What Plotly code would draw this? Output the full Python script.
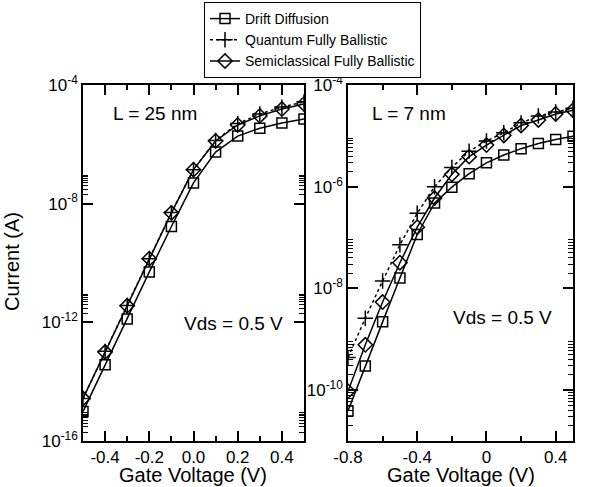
import plotly.graph_objects as go

# ---------------- data ----------------
vg_left = [-0.5, -0.4, -0.3, -0.2, -0.1, 0.0, 0.1, 0.2, 0.3, 0.4, 0.5]
dd_left = [9.8e-16, 3.7e-14, 1.3e-12, 5.0e-11, 1.7e-9, 5.0e-8, 5.5e-7, 1.9e-6, 3.5e-6, 5.2e-6, 7.2e-6]
qb_left = [2.7e-15, 1.05e-13, 3.7e-12, 1.4e-10, 5.0e-9, 1.4e-7, 1.35e-6, 5.0e-6, 1.05e-5, 1.8e-5, 2.7e-5]
sb_left = [2.7e-15, 1.0e-13, 3.6e-12, 1.4e-10, 4.9e-9, 1.4e-7, 1.3e-6, 4.5e-6, 9.1e-6, 1.55e-5, 2.3e-5]

vg_right = [-0.8, -0.7, -0.6, -0.5, -0.4, -0.3, -0.2, -0.1, 0.0, 0.1, 0.2, 0.3, 0.4, 0.5]
dd_right = [3.9e-11, 3.0e-10, 2.2e-9, 1.6e-8, 1.15e-7, 4.8e-7, 9.8e-7, 1.8e-6, 2.95e-6, 4.2e-6, 5.6e-6, 7.1e-6, 8.5e-6, 9.8e-6]
qb_right = [4.4e-10, 2.6e-9, 1.4e-8, 7.2e-8, 3.0e-7, 1.0e-6, 2.4e-6, 5.0e-6, 7.9e-6, 1.15e-5, 1.8e-5, 2.45e-5, 2.95e-5, 3.5e-5]
sb_right = [9.5e-11, 7.8e-10, 5.4e-9, 3.2e-8, 1.6e-7, 6.0e-7, 1.75e-6, 3.9e-6, 6.6e-6, 1.02e-5, 1.6e-5, 2.05e-5, 2.7e-5, 3.2e-5]

series_names = ["Drift Diffusion", "Quantum Fully Ballistic", "Semiclassical Fully Ballistic"]

x_left_ticks = [-0.4, -0.2, 0.0, 0.2, 0.4]
x_left_text = ["-0.4", "-0.2", "0.0", "0.2", "0.4"]
x_left_minor = [-0.3, -0.1, 0.1, 0.3]
x_right_ticks = [-0.8, -0.4, 0.0, 0.4]
x_right_text = ["-0.8", "-0.4", "0", "0.4"]
x_right_minor = [-0.6, -0.2, 0.2]

y_left_ticks = [1e-16, 1e-12, 1e-8, 1e-4]
y_left_text = ["10<sup>-16</sup>", "10<sup>-12</sup>", "10<sup>-8</sup>", "10<sup>-4</sup>"]
y_left_minor_decades = [1e-16, 1e-12, 1e-8]
y_right_ticks = [1e-10, 1e-8, 1e-6, 1e-4]
y_right_text = ["10<sup>-10</sup>", "10<sup>-8</sup>", "10<sup>-6</sup>", "10<sup>-4</sup>"]
y_right_minor_decades = [1e-11, 1e-10, 1e-8, 1e-6]
minor_mult = [2, 3, 4, 5, 6, 7, 8, 9]

FONT = "Liberation Sans, Arial, Helvetica, sans-serif"
W, H = 589, 487

fig = go.Figure()

styles = [
    dict(symbol="square-open", size=10, dash="solid"),
    dict(symbol="cross-thin-open", size=11, dash="dot"),
    dict(symbol="diamond-open", size=11, dash="solid"),
]

for i, (ys, st) in enumerate(zip([dd_left, qb_left, sb_left], styles)):
    fig.add_trace(go.Scatter(
        x=vg_left, y=ys, mode="lines+markers", name=series_names[i],
        line=dict(color="black", width=1.5, dash=st["dash"]),
        marker=dict(symbol=st["symbol"], size=st["size"], color="black",
                    line=dict(color="black", width=1.5)),
        xaxis="x", yaxis="y", showlegend=True))

for i, (ys, st) in enumerate(zip([dd_right, qb_right, sb_right], styles)):
    fig.add_trace(go.Scatter(
        x=vg_right, y=ys, mode="lines+markers", name=series_names[i],
        line=dict(color="black", width=1.5, dash=st["dash"]),
        marker=dict(symbol=st["symbol"], size=st["size"], color="black",
                    line=dict(color="black", width=1.5)),
        xaxis="x2", yaxis="y2", showlegend=False))

ytop, ybot = 85, 441
ydom = [1 - ybot / H, 1 - ytop / H]

def xaxis_cfg(dom, rng, tv, tt, mv):
    return dict(domain=dom, range=rng, tickmode="array", tickvals=tv, ticktext=tt,
                ticks="inside", ticklen=10, tickwidth=1.5, tickcolor="black",
                showline=True, linecolor="black", linewidth=1.5, mirror="ticks",
                showgrid=False, zeroline=False, automargin=False,
                tickfont=dict(family=FONT, size=17, color="black"),
                minor=dict(tickmode="array", tickvals=mv, ticks="inside", ticklen=5,
                           tickwidth=1.5, tickcolor="black", showgrid=False))

def yaxis_cfg(rng, tv, tt, decades, anchor):
    mv = [m * d for d in decades for m in minor_mult]
    return dict(domain=ydom, type="log", range=rng, tickmode="array", tickvals=tv, ticktext=tt,
                ticks="inside", ticklen=10, tickwidth=1.5, tickcolor="black",
                showline=True, linecolor="black", linewidth=1.5, mirror="ticks",
                showgrid=False, zeroline=False, anchor=anchor, automargin=False,
                tickfont=dict(family=FONT, size=17, color="black"),
                minor=dict(tickmode="array", tickvals=mv, ticks="inside", ticklen=5,
                           tickwidth=1, tickcolor="black", showgrid=False))

fig.update_layout(
    template="none",
    width=W, height=H, margin=dict(l=0, r=0, t=0, b=0, autoexpand=False),
    paper_bgcolor="white", plot_bgcolor="white",
    font=dict(family=FONT, color="black"),
    xaxis=xaxis_cfg([83 / W, 304 / W], [-0.5, 0.5], x_left_ticks, x_left_text, x_left_minor) | dict(anchor="y"),
    yaxis=yaxis_cfg([-16, -4], y_left_ticks, y_left_text, y_left_minor_decades, "x"),
    xaxis2=xaxis_cfg([348 / W, 573 / W], [-0.8, 0.5], x_right_ticks, x_right_text, x_right_minor) | dict(anchor="y2"),
    yaxis2=yaxis_cfg([-11, -4], y_right_ticks, y_right_text, y_right_minor_decades, "x2"),
    legend=dict(x=204 / W, y=1 - 2 / H, xanchor="left", yanchor="top",
                bordercolor="black", borderwidth=1, bgcolor="white",
                font=dict(family=FONT, size=14, color="black"),
                tracegroupgap=0, itemwidth=30),
    showlegend=True,
)

def ann(text, px, py, size=17, angle=0, xanchor="left"):
    fig.add_annotation(text=text, x=px / W, y=1 - py / H, xref="paper", yref="paper",
                       showarrow=False, xanchor=xanchor, yanchor="middle", textangle=angle,
                       font=dict(family=FONT, size=size, color="black"))

ann("L = 25 nm", 111, 113, 19)
ann("Vds = 0.5 V", 182, 323, 19)
ann("L = 7 nm", 370, 113, 19)
ann("Vds = 0.5 V", 451, 317, 19)
ann("Gate Voltage (V)", 193, 475, 20, xanchor="center")
ann("Gate Voltage (V)", 461, 475, 20, xanchor="center")
ann("Current (A)", 12, 262, 20, angle=-90, xanchor="center")

fig.write_html("out.html", config={"displayModeBar": False},
               post_script="document.body.style.margin='0';document.body.style.overflow='hidden';")
